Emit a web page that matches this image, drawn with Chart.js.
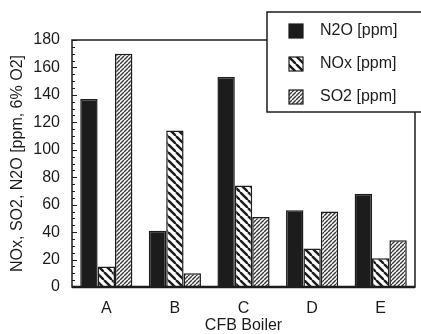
<!DOCTYPE html>
<html>
<head>
<meta charset="utf-8">
<script src="https://cdn.jsdelivr.net/npm/chart.js@4/dist/chart.umd.min.js"></script>
<style>
html, body { margin: 0; padding: 0; background: #fff; }
#wrap { width: 421px; height: 334px; }
</style>
</head>
<body>
<div id="wrap"><canvas id="chart"></canvas></div>
<script>
const boilers = ['A', 'B', 'C', 'D', 'E'];
const n2o = [137, 41, 153, 56, 68];
const nox = [15, 114, 74, 28, 21];
const so2 = [170, 10, 51, 55, 34];
const seriesLabels = ['N2O [ppm]', 'NOx [ppm]', 'SO2 [ppm]'];

const INK = '#1c1c1c';
const FONT = 'Liberation Sans, Arial, sans-serif';

// diagonal hatch, dir 1 = "\\\", dir -1 = "///"
function hatch(size, lineWidth, color, dir) {
    const c = document.createElement('canvas');
    c.width = size;
    c.height = size;
    const g = c.getContext('2d');
    g.fillStyle = '#fff';
    g.fillRect(0, 0, size, size);
    g.strokeStyle = color;
    g.lineWidth = lineWidth;
    for (let k = -size; k <= size; k += size) {
        g.beginPath();
        if (dir > 0) {
            g.moveTo(k, 0);
            g.lineTo(k + size, size);
        } else {
            g.moveTo(k + size, 0);
            g.lineTo(k, size);
        }
        g.stroke();
    }
    return g.createPattern(c, 'repeat');
}

const noxFill = hatch(8, 2.4, INK, 1);
const so2Fill = hatch(4, 1.4, '#3a3a3a', -1);

// inside ticks: long every 20, short every 5
const insideTicks = {
    id: 'insideTicks',
    afterDraw(chart) {
        const { ctx, chartArea } = chart;
        const y = chart.scales.y;
        ctx.save();
        ctx.strokeStyle = INK;
        ctx.lineWidth = 1;
        for (let v = 0; v <= 180; v += 5) {
            const py = Math.round(y.getPixelForValue(v)) + 0.5;
            const len = v % 20 === 0 ? 5 : 3;
            ctx.beginPath();
            ctx.moveTo(chartArea.left, py);
            ctx.lineTo(chartArea.left + len, py);
            ctx.stroke();
        }
        ctx.restore();
    }
};

const frame = {
    id: 'frame',
    afterDraw(chart) {
        const { ctx, chartArea } = chart;
        ctx.save();
        ctx.strokeStyle = INK;
        ctx.lineWidth = 1.5;
        ctx.strokeRect(chartArea.left, chartArea.top, chartArea.right - chartArea.left, chartArea.bottom - chartArea.top);
        ctx.lineWidth = 2.5;
        ctx.beginPath();
        ctx.moveTo(chartArea.left, chartArea.bottom);
        ctx.lineTo(chartArea.right, chartArea.bottom);
        ctx.stroke();
        ctx.restore();
    }
};

const boxLegend = {
    id: 'boxLegend',
    afterDraw(chart) {
        const { ctx } = chart;
        ctx.save();
        ctx.fillStyle = '#fff';
        ctx.fillRect(267, 12, 170, 100);
        ctx.strokeStyle = INK;
        ctx.lineWidth = 1.5;
        ctx.strokeRect(267, 12, 170, 100);
        const rows = [31, 64, 97];
        ctx.font = '16px ' + FONT;
        ctx.textBaseline = 'middle';
        chart.data.datasets.forEach((ds, i) => {
            ctx.fillStyle = ds.backgroundColor;
            ctx.fillRect(289, rows[i] - 7, 14, 14);
            ctx.lineWidth = 1.2;
            ctx.strokeRect(289, rows[i] - 7, 14, 14);
            ctx.fillStyle = INK;
            ctx.fillText(ds.label, 320, rows[i]);
        });
        ctx.restore();
    }
};

new Chart(document.getElementById('chart'), {
    type: 'bar',
    data: {
        labels: boilers,
        datasets: [
            { label: seriesLabels[0], data: n2o, backgroundColor: INK },
            { label: seriesLabels[1], data: nox, backgroundColor: noxFill },
            { label: seriesLabels[2], data: so2, backgroundColor: so2Fill },
        ],
    },
    options: {
        responsive: true,
        maintainAspectRatio: false,
        animation: false,
        layout: { padding: { top: 40, right: 6, left: 0, bottom: 0 } },
        datasets: {
            bar: {
                borderColor: INK,
                borderWidth: 1.5,
                categoryPercentage: 0.76,
                barPercentage: 1,
            },
        },
        plugins: {
            legend: { display: false },
            tooltip: { enabled: false },
        },
        scales: {
            x: {
                grid: { display: false, drawTicks: false },
                border: { display: false },
                ticks: { color: INK, padding: 12, font: { family: FONT, size: 16 } },
                title: {
                    display: true,
                    text: 'CFB Boiler',
                    color: INK,
                    padding: 0,
                    font: { family: FONT, size: 16, lineHeight: 1 },
                },
                afterFit(scale) { scale.height = 47; },
            },
            y: {
                min: 0,
                max: 180,
                grid: { display: false, drawTicks: false },
                border: { display: false },
                ticks: { stepSize: 20, color: INK, padding: 12, font: { family: FONT, size: 16 } },
                title: {
                    display: true,
                    text: 'NOx, SO2, N2O [ppm, 6% O2]',
                    color: INK,
                    padding: { top: 8, bottom: 0 },
                    font: { family: FONT, size: 16 },
                },
                afterFit(scale) { scale.width = 72; },
            },
        },
    },
    plugins: [insideTicks, frame, boxLegend],
});
</script>
</body>
</html>
